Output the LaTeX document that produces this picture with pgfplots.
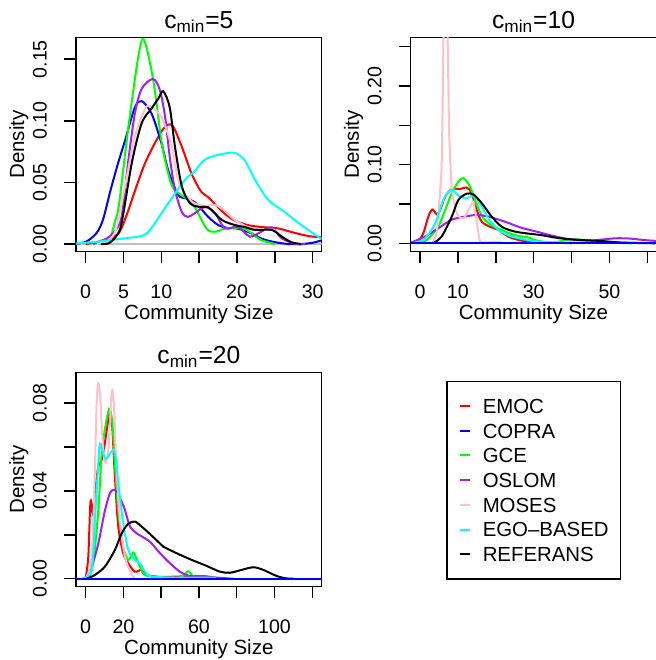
\documentclass[border=0pt]{standalone}
\usepackage{fontspec}
\setmainfont{Liberation Sans}
\usepackage{pgfplots}
\pgfplotsset{compat=1.18}
\definecolor{rred}{HTML}{FF0000}
\definecolor{rblue}{HTML}{0000FF}
\definecolor{rgreen}{HTML}{00FF00}
\definecolor{rpurple}{HTML}{A020F0}
\definecolor{rpink}{HTML}{FFC0CB}
\definecolor{rcyan}{HTML}{00FFFF}
\definecolor{rgray}{HTML}{BEBEBE}
\pgfplotsset{
  rpanel/.style={
    scale only axis, width=122.85pt, height=107.2pt, anchor=south west,
    axis line style={line width=0.75pt},
    tick align=outside, major tick length=5.75pt,
    xtick pos=bottom, ytick pos=left,
    scaled ticks=false,
    every tick/.style={black, line width=0.75pt},
    /pgf/number format/assume math mode=true,
    ticklabel style={font=\fontsize{9.8}{11}\selectfont, inner sep=0pt},
    xticklabel style={anchor=base},
    yticklabel style={rotate=90, anchor=base},
    xticklabel shift=17.6pt, yticklabel shift=8.9pt,
    label style={font=\fontsize{10.25}{12}\selectfont, inner sep=0pt},
    xlabel style={at={([yshift=-34pt]axis description cs:0.5,0)}, anchor=base},
    ylabel style={at={([xshift=-25.9pt]axis description cs:0,0.5)}, anchor=base},
    every axis title/.style={at={(axis description cs:0.5,1)}, anchor=base, yshift=4.5pt, font=\fontsize{12.3}{14}\selectfont, inner sep=0pt},
    xlabel={Community Size}, ylabel={Density},
    every axis plot/.append style={line width=1pt, smooth, tension=0.5},
  }
}
\begin{document}
\begin{tikzpicture}
% ---------------- panel 1 ----------------
\begin{axis}[rpanel, at={(38pt,204.15pt)},
  xmin=-1.28, xmax=31.19, ymin=-0.00625, ymax=0.1678,
  xtick={0,5,10,15,20,25,30}, xticklabels={0,5,10,{},20,{},30},
  ytick={0,0.05,0.10,0.15}, yticklabels={0.00,0.05,0.10,0.15},
  title={c\textsubscript{min}=5}]
\addplot[rgray] coordinates {(-1.28,0) (31.19,0)};
\addplot[rred] coordinates {(0,0) (1,0.001) (2.5,0.003) (3.5,0.005) (4.5,0.010) (5.5,0.025) (6.5,0.043) (7.8,0.065) (9.15,0.082) (10.2,0.093) (10.9,0.097) (11.6,0.095) (12.7,0.079) (14,0.057) (15.2,0.043) (16.2,0.038) (17.3,0.031) (18.5,0.024) (19.7,0.019) (21.4,0.0154) (23.2,0.0138) (25.4,0.0127) (27.2,0.0097) (29.4,0.0065) (31.19,0.0054)};
\addplot[rblue] coordinates {(-1.2,0.0003) (0.1,0.002) (1.45,0.009) (2.3,0.02) (3.3,0.044) (4.3,0.066) (5.2,0.084) (6.5,0.111) (7.4,0.116) (8.7,0.106) (10,0.082) (10.9,0.060) (12.2,0.040) (13.3,0.037) (14.4,0.034) (15.2,0.029) (16.2,0.022) (17.5,0.0154) (18.8,0.013) (20.1,0.0125) (21.9,0.0087) (23.2,0.0045) (24.6,0.002) (26.7,0) (28.5,0) (30,0.001) (31.19,0.003)};
\addplot[rgreen] coordinates {(1.5,0) (2.5,0.001) (3.3,0.006) (3.9,0.019) (4.4,0.032) (5.6,0.093) (6.95,0.152) (7.7,0.166) (8.93,0.133) (10.0,0.084) (10.8,0.060) (11.6,0.045) (13.3,0.037) (14.4,0.030) (15.8,0.014) (16.6,0.010) (17.5,0.0105) (18.4,0.0127) (20.1,0.013) (21.1,0.012) (21.9,0.0087) (23.2,0.0032) (25,0)};
\addplot[rpurple] coordinates {(1,0) (2.8,0.0046) (3.8,0.010) (4.75,0.022) (5.6,0.066) (6.5,0.106) (7.4,0.126) (8.9,0.134) (9.8,0.125) (10.5,0.103) (11.1,0.071) (11.8,0.044) (12.7,0.026) (13.5,0.022) (14.4,0.025) (15.8,0.030) (17.1,0.025) (18.4,0.0127) (20.1,0.014) (21.7,0.006) (23.2,0.010) (24.6,0.0135) (25.9,0.0046) (27.8,0) (29,0)};
\addplot[rpink] coordinates {(1.5,0) (3,0.003) (4,0.012) (5.2,0.047) (6.5,0.087) (7.8,0.109) (8.5,0.112) (10,0.103) (11.4,0.079) (12.2,0.052) (13.2,0.040) (14.4,0.033) (15.8,0.031) (17.1,0.0317) (18.4,0.027) (19.7,0.0195) (21.4,0.0138) (23.2,0.0114) (24.9,0.0114) (26.2,0.005) (27.5,0.001) (28.5,0)};
\addplot[rcyan] coordinates {(-1.28,0.0005) (1,0.0015) (3,0.003) (5,0.0045) (7.4,0.0065) (8.3,0.010) (9.15,0.017) (10.9,0.033) (13.1,0.052) (14.4,0.059) (15.3,0.066) (16.2,0.070) (18,0.073) (19.7,0.074) (21,0.068) (22.4,0.052) (24.1,0.036) (26.3,0.026) (28.5,0.0154) (30.7,0.006) (31.19,0.004)};
\addplot[black] coordinates {(2,0) (3,0.0005) (4,0.006) (4.75,0.017) (6.1,0.066) (7.4,0.098) (8.7,0.110) (9.6,0.118) (10.25,0.124) (11.1,0.111) (11.8,0.079) (12.7,0.047) (13.8,0.033) (15.1,0.030) (16.2,0.0298) (18,0.0195) (19.7,0.0154) (21,0.0138) (22.4,0.0114) (24.6,0.0114) (25.9,0.006) (27.2,0.0014) (28.5,0)};
\end{axis}
% ---------------- panel 2 ----------------
\begin{axis}[rpanel, at={(205.35pt,204.15pt)},
  xmin=-2.45, xmax=62.38, ymin=-0.0107, ymax=0.262,
  xtick={0,10,20,30,40,50,60}, xticklabels={0,10,{},30,{},50,{}},
  ytick={0,0.05,0.10,0.15,0.20,0.25}, yticklabels={0.00,{},0.10,{},0.20,{}},
  title={c\textsubscript{min}=10}]
\addplot[rred] coordinates {(-2.2,0) (-0.5,0.003) (0.87,0.0127) (2.2,0.034) (3.25,0.043) (4.4,0.037) (5.3,0.042) (6.6,0.059) (8.4,0.069) (10.55,0.069) (12.3,0.071) (13.6,0.064) (15,0.042) (16.3,0.0275) (18.5,0.021) (20.7,0.017) (23.3,0.0085) (26.8,0.0033) (30,0.002) (35,0.001) (40,0)};
\addplot[rgreen] coordinates {(-1,0) (0.5,0.001) (2.2,0.006) (4.8,0.021) (6.6,0.042) (8.4,0.064) (10.1,0.078) (11.4,0.083) (13.2,0.072) (15,0.049) (16.7,0.032) (18.9,0.023) (21.6,0.017) (24,0.012) (26.4,0.009) (28.6,0.0075) (30.5,0.004) (33,0.0015) (35.2,0.001) (37.5,0.003) (39.6,0.005) (42,0.0048) (44,0.004) (48.4,0.002) (52.8,0.0005) (56,0)};
\addplot[rpurple] coordinates {(-2.3,0.001) (1.3,0.0085) (4.8,0.019) (8.4,0.030) (11.9,0.034) (15,0.036) (18,0.034) (22.4,0.0275) (26.6,0.020) (30.8,0.0148) (35.2,0.0093) (39.6,0.005) (44.9,0.0034) (48.4,0.005) (51.9,0.0064) (55.4,0.006) (58.9,0.0042) (62.38,0.003)};
\addplot[rpink, tension=0.3] coordinates {(3,0) (4.4,0.013) (5.7,0.097) (6.2,0.26) (6.75,0.42) (7.3,0.26) (7.7,0.14) (8.36,0.072) (9.4,0.042) (10.5,0.033) (11.6,0.032) (13.2,0.046) (14.1,0.053) (15,0.026) (15.8,0.003) (17,0.001) (20,0.002) (23,0)};
\addplot[rcyan] coordinates {(-2.3,0) (-0.5,0.002) (1.3,0.006) (4,0.025) (6.15,0.055) (8.2,0.068) (10.1,0.061) (11.9,0.057) (14.1,0.060) (15.8,0.051) (18,0.032) (20.7,0.017) (24.2,0.0085) (28.6,0.004) (32,0.002) (40,0.001) (50,0.001) (58.8,0.0005)};
\addplot[black] coordinates {(3.4,0) (5.7,0.0085) (8.4,0.034) (10.1,0.055) (12.3,0.063) (14.1,0.062) (16.3,0.051) (18.9,0.034) (21.6,0.021) (25.1,0.0148) (29.5,0.0118) (31.7,0.0106) (36.9,0.0064) (42.2,0.0042) (47.5,0.003) (52.8,0.001) (58,0.0003) (62,0)};
\addplot[rblue] coordinates {(-2.45,0) (62.38,0)};
\end{axis}
% ---------------- panel 3 ----------------
\begin{axis}[rpanel, at={(38pt,36.65pt)},
  xmin=-5.1, xmax=125, ymin=-0.00365, ymax=0.094,
  xtick={0,20,40,60,80,100,120}, xticklabels={0,20,{},60,{},100,{}},
  ytick={0,0.02,0.04,0.06,0.08}, yticklabels={0.00,{},0.04,{},0.08},
  title={c\textsubscript{min}=20},
  legend cell align=left,
  legend image code/.code={\draw[#1, line width=1pt] (0pt,0pt) -- (5pt,0pt);},
  legend style={at={(1.5059,0.9612)}, anchor=north west, draw=black, line width=0.75pt, fill=white,
    inner xsep=6pt, inner ysep=7.6pt, row sep=2.85pt, column sep=6pt,
    font=\fontsize{10.2}{12}\selectfont,
    nodes={inner sep=0pt, text height=8.4pt, text depth=1.1pt}}]
\addlegendimage{rred}
\addlegendimage{rblue}
\addlegendimage{rgreen}
\addlegendimage{rpurple}
\addlegendimage{rpink}
\addlegendimage{rcyan}
\addlegendimage{black}
\legend{EMOC,COPRA,GCE,OSLOM,MOSES,EGO--BASED,REFERANS}
\addplot[rred, forget plot] coordinates {(0,0) (1.4,0.010) (2.3,0.031) (2.8,0.0356) (3.7,0.030) (4.9,0.039) (6.7,0.051) (8.5,0.054) (10.2,0.062) (12,0.0724) (13,0.0767) (14.1,0.069) (15.5,0.0466) (17.3,0.0237) (19.9,0.0116) (22.6,0.007) (26.1,0.0032) (29.7,0.004) (32.3,0.0017) (40,0.0008) (50,0.001) (60,0.0008) (65,0)};
\addplot[rgreen, forget plot] coordinates {(1.5,0) (4,0.007) (6.7,0.031) (8.5,0.057) (10.2,0.068) (12,0.076) (12.7,0.0773) (14.1,0.071) (15.5,0.053) (17.3,0.031) (19.9,0.0146) (22.6,0.0085) (25.2,0.0119) (27,0.009) (28.8,0.0055) (31.4,0.0017) (40,0.0005) (50,0.0005) (54.3,0.0034) (57,0.001) (62,0)};
\addplot[rpurple, forget plot] coordinates {(-2,0) (0,0.0005) (3.2,0.0055) (6.7,0.016) (10.2,0.031) (12.9,0.039) (15.5,0.0405) (18.2,0.0367) (20.8,0.0314) (23.5,0.0237) (27,0.0207) (31.4,0.0184) (34,0.0169) (36,0.015) (39.4,0.0116) (44.7,0.007) (49.9,0.0032) (55.2,0.0012) (62.3,0.0012) (69.4,0.0005) (78,0)};
\addplot[rpink, forget plot] coordinates {(0,0) (3.2,0.010) (4.9,0.0496) (5.8,0.080) (6.7,0.089) (7.7,0.083) (8.8,0.065) (10.2,0.053) (12,0.0587) (13.4,0.080) (14.1,0.0858) (15.1,0.077) (16.4,0.0496) (18.2,0.0268) (20.8,0.010) (24.4,0.002) (26,0)};
\addplot[rcyan, forget plot] coordinates {(-2,0) (3.2,0.004) (4.9,0.0268) (6.7,0.0527) (7.6,0.0615) (9.3,0.057) (10.75,0.0545) (12.9,0.057) (14.6,0.0587) (15.9,0.0557) (17.3,0.0435) (19.9,0.0253) (22.6,0.0131) (26.1,0.0085) (28.8,0.007) (31.4,0.0032) (35,0.001) (50,0.0005) (69,0.0005)};
\addplot[black, forget plot] coordinates {(0.5,0) (4.9,0.0017) (10.2,0.0055) (15.5,0.0131) (19.1,0.0207) (22.6,0.025) (26.1,0.026) (29.7,0.0237) (34,0.0204) (39.4,0.016) (41.1,0.0146) (48.2,0.0116) (55.2,0.0089) (64.1,0.0058) (71.1,0.0032) (76.4,0.0027) (82.6,0.004) (88.8,0.0052) (94.1,0.004) (101.2,0.0012) (106.5,0.0001) (110,0)};
\addplot[rblue, forget plot] coordinates {(-5.1,0) (125,0)};
\end{axis}
\pgfresetboundingbox
\useasboundingbox (0,0) rectangle (327.5pt,330pt);
\end{tikzpicture}
\end{document}
